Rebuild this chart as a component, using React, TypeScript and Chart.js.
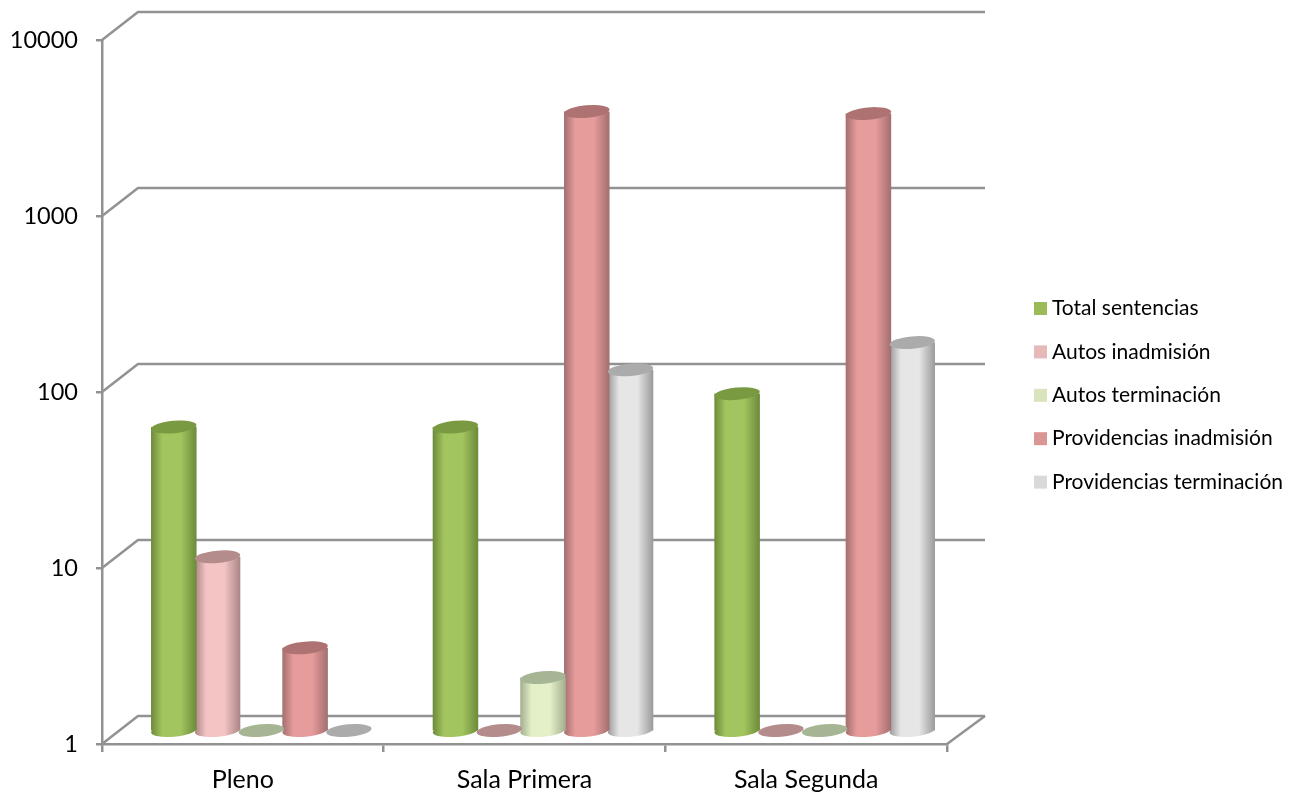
import React, { useEffect, useRef } from "react";
import { Chart, registerables } from "chart.js";

Chart.register(...registerables);

const categories = ["Pleno", "Sala Primera", "Sala Segunda"];
const totalSentencias = [53, 53, 82];
const autosInadmision = [9.7, 1, 1];
const autosTerminacion = [1, 2, 1];
const providenciasInadmision = [2.95, 3290, 3200];
const providenciasTerminacion = [1, 112, 160];
const seriesNames = ["Total sentencias", "Autos inadmisión", "Autos terminación", "Providencias inadmisión", "Providencias terminación"];
const seriesValues = [totalSentencias, autosInadmision, autosTerminacion, providenciasInadmision, providenciasTerminacion];
const yTicks = [1, 10, 100, 1000, 10000];

const legendColors = ["#9BBB59", "#E6B9B8", "#D7E4BD", "#D99694", "#D9D9D9"];
const edgeColors = ["#6C8A3A", "#A98585", "#A3AE90", "#A26F6E", "#9A9A9A"];
const midColors = ["#A3C55F", "#F4C4C4", "#E3F0C8", "#E79C9C", "#E6E6E6"];
const topColors = ["#7A9A42", "#B48C8C", "#A6B594", "#AD7271", "#ABABAB"];

const FONT = "Lato";
const AXIS = "#929292";
const AXIS_W = 2.5;
const CAT_PCT = 0.777;
const BAR_PCT = 1.04;
const BAR_DX = 18.5;
const BAR_DY = -13.5;
const WALL_DX = 36;
const WALL_DY = -28;
const RY = 6.2;
const TILT = (-5 * Math.PI) / 180;

function barGeom(chart: any, ds: number, i: number) {
  const x = chart.scales.x;
  const cat = (x.right - x.left) / categories.length;
  const slot = (cat * CAT_PCT) / seriesNames.length;
  const w = slot * BAR_PCT;
  const left = x.getPixelForValue(i) + (ds - (seriesNames.length - 1) / 2) * slot - w / 2;
  return { left, w };
}

function gradient(chart: any, ds: number, i: number) {
  const { left, w } = barGeom(chart, ds, i);
  if (!Number.isFinite(left) || !Number.isFinite(w)) return legendColors[ds];
  const g = chart.ctx.createLinearGradient(left, 0, left + w, 0);
  g.addColorStop(0, edgeColors[ds]);
  g.addColorStop(0.25, midColors[ds]);
  g.addColorStop(0.65, midColors[ds]);
  g.addColorStop(1, edgeColors[ds]);
  return g;
}

const cylinderPlugin = {
  id: "cylinder3d",
  beforeDatasetsDraw(chart: any) {
    const { ctx, scales } = chart;
    const { x, y } = scales;
    ctx.save();
    ctx.strokeStyle = AXIS;
    ctx.lineWidth = AXIS_W;
    yTicks.forEach((v) => {
      const py = y.getPixelForValue(v);
      ctx.beginPath();
      ctx.moveTo(x.left, py);
      ctx.lineTo(x.left + WALL_DX, py + WALL_DY);
      ctx.lineTo(x.right + WALL_DX + 2, py + WALL_DY);
      ctx.stroke();
    });
    const by = y.getPixelForValue(1);
    ctx.beginPath();
    ctx.moveTo(x.right, by);
    ctx.lineTo(x.right + WALL_DX + 2, by + WALL_DY);
    ctx.stroke();
    ctx.restore();

    ctx.save();
    ctx.translate(BAR_DX, BAR_DY);
    seriesValues.forEach((vals, ds) => {
      vals.forEach((v, i) => {
        if (v <= 1) return;
        const { left, w } = barGeom(chart, ds, i);
        ctx.fillStyle = gradient(chart, ds, i);
        ctx.beginPath();
        ctx.ellipse(left + w / 2, by, w / 2, RY, TILT, 0, Math.PI * 2);
        ctx.fill();
      });
    });
  },
  afterDatasetsDraw(chart: any) {
    const { ctx, scales } = chart;
    seriesValues.forEach((vals, ds) => {
      vals.forEach((v, i) => {
        const { left, w } = barGeom(chart, ds, i);
        ctx.fillStyle = topColors[ds];
        ctx.beginPath();
        ctx.ellipse(left + w / 2, scales.y.getPixelForValue(v), w / 2, RY, TILT, 0, Math.PI * 2);
        ctx.fill();
      });
    });
    ctx.restore();
  },
  afterDraw(chart: any) {
    const { ctx } = chart;
    ctx.save();
    ctx.font = `21px ${FONT}`;
    ctx.textBaseline = "middle";
    ctx.textAlign = "left";
    const rowY = 308.5;
    const rowGap = 43.4;
    seriesNames.forEach((name, idx) => {
      const cy = rowY + idx * rowGap;
      ctx.fillStyle = legendColors[idx];
      ctx.fillRect(1034, cy - 6.5, 13, 13);
      ctx.fillStyle = "#000";
      ctx.fillText(name, 1052, cy);
    });
    ctx.restore();
  },
};

export default function App() {
  const ref = useRef<HTMLCanvasElement>(null);
  useEffect(() => {
    const chart = new Chart(ref.current as HTMLCanvasElement, {
      type: "bar",
      data: {
        labels: categories,
        datasets: seriesNames.map((label, ds) => ({
          label,
          data: seriesValues[ds],
          clip: false,
          backgroundColor: (c: any) =>
            c.type === "data" && c.chart.scales.x ? gradient(c.chart, ds, c.dataIndex) : legendColors[ds],
          borderWidth: 0,
          barPercentage: BAR_PCT,
          categoryPercentage: CAT_PCT,
        })) as any,
      },
      options: {
        animation: false,
        responsive: false,
        layout: { padding: { left: 0, top: 40, right: 357, bottom: 0 } },
        plugins: { legend: { display: false }, tooltip: { enabled: false } },
        scales: {
          x: {
            afterFit: (s: any) => { s.height = 52; },
            grid: { drawOnChartArea: false, color: AXIS, lineWidth: AXIS_W, tickLength: 8 },
            border: { color: AXIS, width: AXIS_W },
            ticks: { color: "#000", font: { family: FONT, size: 25 }, padding: 13, maxRotation: 0 },
          },
          y: {
            type: "logarithmic",
            min: 1,
            max: 10000,
            afterFit: (s: any) => { s.width = 102; },
            afterBuildTicks: (s: any) => { s.ticks = yTicks.map((value) => ({ value })); },
            grid: { drawOnChartArea: false, color: AXIS, lineWidth: AXIS_W, tickLength: 6 },
            border: { color: AXIS, width: AXIS_W },
            ticks: {
              color: "#000",
              font: { family: FONT, size: 23.5 },
              padding: 18,
              autoSkip: false,
              callback: (v: any) => String(v),
            },
          },
        },
      },
      plugins: [cylinderPlugin],
    });
    return () => chart.destroy();
  }, []);
  return (
    <div style={{ position: "absolute", left: 0, top: 0, width: 1304, height: 796, background: "#fff" }}>
      <canvas ref={ref} width={1304} height={796} style={{ display: "block" }} />
    </div>
  );
}
